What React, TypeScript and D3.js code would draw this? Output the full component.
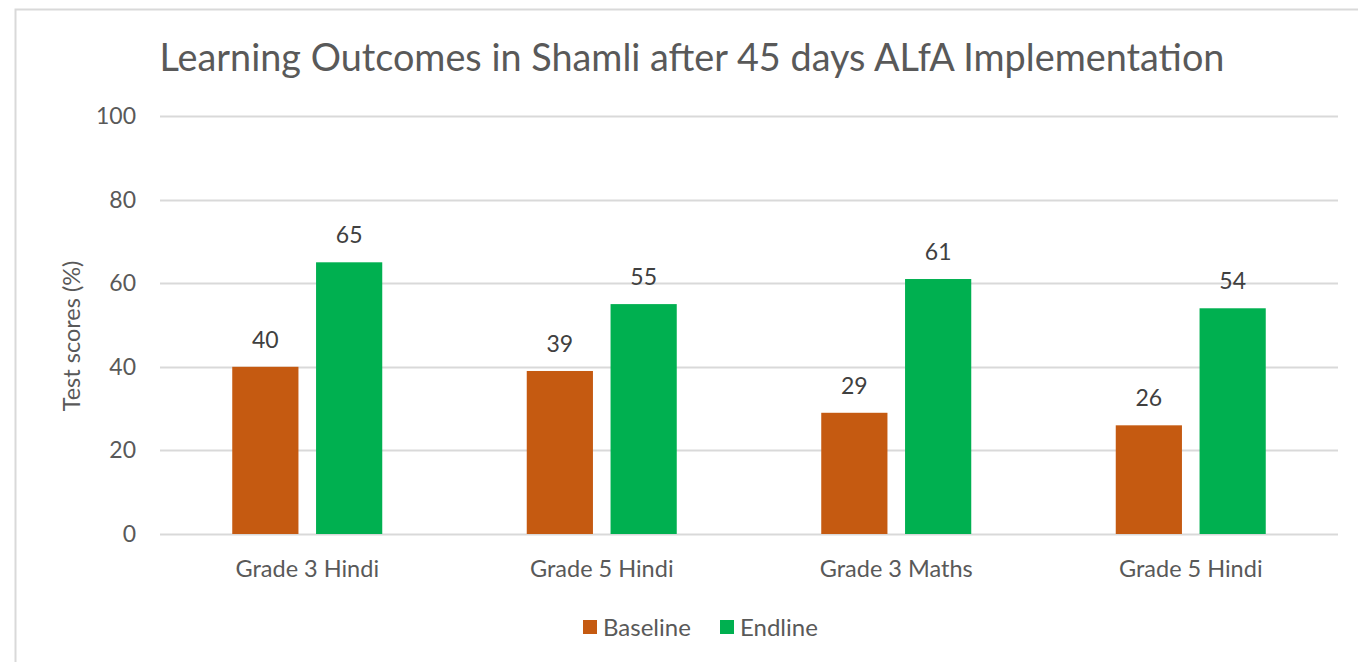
import { useEffect, useRef } from "react";
import * as d3 from "d3";

const categories = ["Grade 3 Hindi", "Grade 5 Hindi", "Grade 3 Maths", "Grade 5 Hindi"];
const seriesNames = ["Baseline", "Endline"];
const baseline = [40, 39, 29, 26];
const endline = [65, 55, 61, 54];
const yTicks = [0, 20, 40, 60, 80, 100];
const colors = ["#C55A11", "#00B050"];

export default function App() {
  const svgRef = useRef<SVGSVGElement>(null);

  useEffect(() => {
    const width = 1358;
    const height = 662;
    const font = "Lato, 'Open Sans', sans-serif";
    const textColor = "#595959";

    const svg = d3.select(svgRef.current);
    svg.selectAll("*").remove();
    svg.attr("width", width).attr("height", height);

    // chart frame
    svg
      .append("rect")
      .attr("x", 15.5)
      .attr("y", 9.5)
      .attr("width", 1400)
      .attr("height", 700)
      .attr("fill", "#fff")
      .attr("stroke", "#d9d9d9")
      .attr("stroke-width", 2);

    svg
      .append("text")
      .attr("x", 692)
      .attr("y", 71)
      .attr("text-anchor", "middle")
      .attr("font-family", font)
      .attr("font-size", 37.8)
      .attr("fill", textColor)
      .text("Learning Outcomes in Shamli after 45 days ALfA Implementation");

    // categories repeat, so band on index
    const idx = categories.map((_, i) => i);
    const x0 = d3.scaleBand<number>().domain(idx).range([160, 1338]);
    const x1 = d3.scaleBand().domain(seriesNames).range([0, 150]).paddingInner(0.21);
    const y = d3.scaleLinear().domain([0, 100]).range([534, 116]);

    // gridlines
    svg
      .append("g")
      .selectAll("line")
      .data(yTicks)
      .join("line")
      .attr("x1", 160)
      .attr("x2", 1338)
      .attr("y1", (d) => Math.round(y(d)) + 0.5)
      .attr("y2", (d) => Math.round(y(d)) + 0.5)
      .attr("stroke", "#d9d9d9")
      .attr("stroke-width", 2);

    svg
      .append("g")
      .selectAll("text")
      .data(yTicks)
      .join("text")
      .attr("x", 136)
      .attr("y", (d) => y(d) + 8)
      .attr("text-anchor", "end")
      .attr("font-family", font)
      .attr("font-size", 23)
      .attr("fill", textColor)
      .text((d) => d);

    const series = [baseline, endline];
    const groups = svg
      .append("g")
      .selectAll("g")
      .data(idx)
      .join("g")
      .attr("transform", (i) => `translate(${x0(i)! + (x0.bandwidth() - 150) / 2},0)`);

    groups.each(function (ci) {
      const g = d3.select(this);
      seriesNames.forEach((s, si) => {
        const v = series[si][ci];
        g.append("rect")
          .attr("x", x1(s)!)
          .attr("width", x1.bandwidth())
          .attr("y", y(v))
          .attr("height", y(0) - y(v))
          .attr("fill", colors[si]);
        g.append("text")
          .attr("x", x1(s)! + x1.bandwidth() / 2)
          .attr("y", y(v) - 19)
          .attr("text-anchor", "middle")
          .attr("font-family", font)
          .attr("font-size", 23)
          .attr("fill", "#404040")
          .text(v);
      });
      g.append("text")
        .attr("x", 75)
        .attr("y", 577)
        .attr("text-anchor", "middle")
        .attr("font-family", font)
        .attr("font-size", 23.5)
        .attr("fill", textColor)
        .text(categories[ci]);
    });

    svg
      .append("text")
      .attr("transform", "translate(80,336) rotate(-90)")
      .attr("text-anchor", "middle")
      .attr("font-family", font)
      .attr("font-size", 23.5)
      .attr("fill", textColor)
      .text("Test scores (%)");

    // legend
    const legendX = [583, 720];
    seriesNames.forEach((s, i) => {
      svg
        .append("rect")
        .attr("x", legendX[i])
        .attr("y", 620)
        .attr("width", 14)
        .attr("height", 14)
        .attr("fill", colors[i]);
      svg
        .append("text")
        .attr("x", legendX[i] + 20)
        .attr("y", 636)
        .attr("font-family", font)
        .attr("font-size", 24)
        .attr("fill", textColor)
        .text(s);
    });
  }, []);

  return (
    <div style={{ position: "absolute", left: 0, top: 0 }}>
      <svg ref={svgRef} style={{ display: "block" }}></svg>
    </div>
  );
}
